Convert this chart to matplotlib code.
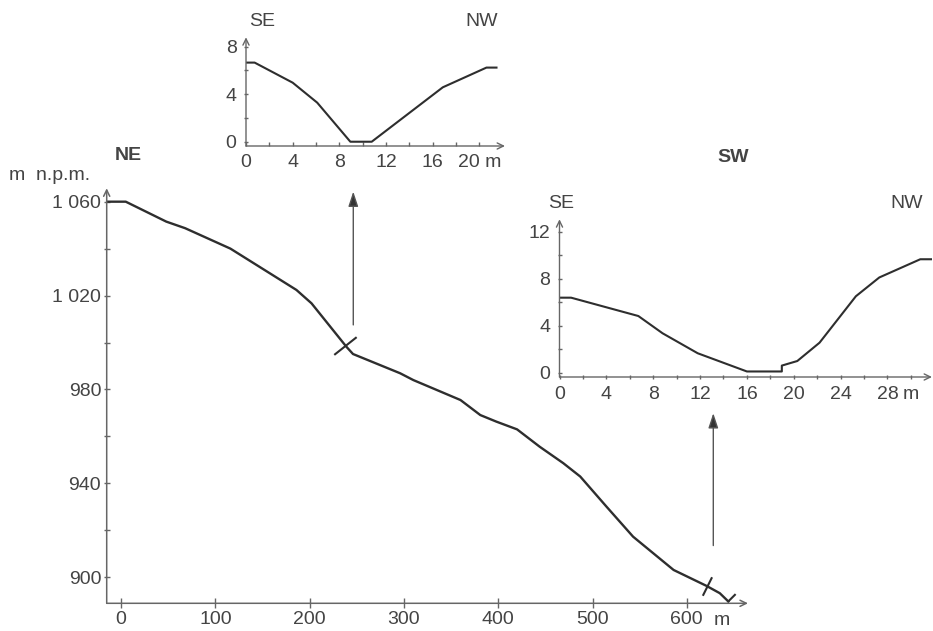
import matplotlib
matplotlib.use("Agg")
import matplotlib.pyplot as plt
import numpy as np

plt.rcParams['font.family'] = ['Liberation Sans', 'DejaVu Sans']

# ---- data ----
# main longitudinal profile (distance m, elevation m a.s.l.)
profile_x = [-15, 5, 48, 68, 116, 186, 202, 239, 246, 296, 310, 360, 381, 398,
             420, 444, 469, 487, 515, 543, 586, 621, 635, 644]
profile_y = [1060, 1060, 1051.5, 1048.7, 1040, 1022.4, 1016.7, 998.2, 995.1,
             986.9, 984, 975.5, 969.1, 966.3, 963, 955.6, 948.6, 942.9, 930,
             917.3, 903.1, 896.3, 893.2, 889.7]
main_xticks = [0, 100, 200, 300, 400, 500, 600]
main_yticks = [900, 920, 940, 960, 980, 1000, 1020, 1040, 1060]
main_ylabeled = [900, 940, 980, 1020, 1060]

# section markers on the profile (segment ends)
sec_x0 = [227, 617.5, 644]
sec_y0 = [995.0, 892.5, 889.7]
sec_x1 = [249, 626.3, 651]
sec_y1 = [1002.0, 899.6, 892.5]

# arrows pointing to cross-sections
arrow_x = [246.3, 628.1]
arrow_y0 = [1007.5, 913.5]
arrow_y1 = [1064.3, 969.9]

# cross-section 1 (upper, SE-NW)
cs1_x = [0, 0.74, 4.0, 6.1, 8.94, 10.77, 16.86, 20.6, 21.46]
cs1_y = [6.66, 6.66, 4.97, 3.29, 0, 0, 4.58, 6.24, 6.24]
cs1_xticks = [0, 2, 4, 6, 8, 10, 12, 14, 16, 18, 20]
cs1_xlabels = ['0', '', '4', '', '8', '', '12', '', '16', '', '20 m']
cs1_yticks = [0, 2, 4, 6, 8]
cs1_ylabels = ['0', '', '4', '', '8']

# cross-section 2 (right, SE-NW)
cs2_x = [0, 0.99, 6.73, 8.8, 11.8, 16.0, 18.98, 18.98, 20.3, 22.2, 25.3, 27.3, 30.8, 31.8]
cs2_y = [6.38, 6.38, 4.82, 3.35, 1.65, 0.1, 0.1, 0.6, 0.99, 2.55, 6.5, 8.1, 9.65, 9.65]
cs2_xticks = [0, 2, 4, 6, 8, 10, 12, 14, 16, 18, 20, 22, 24, 26, 28, 30]
cs2_xlabels = ['0', '', '4', '', '8', '', '12', '', '16', '', '20', '', '24', '', '28', '']
cs2_yticks = [0, 2, 4, 6, 8, 10, 12]
cs2_ylabels = ['0', '', '4', '', '8', '', '12']

# ---- style ----
LINE = '#2e2e2e'
AXC = '#666666'
TXT = '#444444'
FS = 14
W, H = 933, 631

fig = plt.figure(figsize=(W / 100, H / 100), dpi=100)


def px_axes(l, r, b, t):
    return fig.add_axes([l / W, 1 - b / H, (r - l) / W, (b - t) / H])


def axis_arrows(ax, lw=1.1):
    for xy in [(1, 0), (0, 1)]:
        ax.annotate('', xy=xy, xytext=(0, 0), xycoords='axes fraction',
                    textcoords='axes fraction',
                    arrowprops=dict(arrowstyle='->,head_length=0.45,head_width=0.22',
                                    lw=lw, color=AXC, shrinkA=0, shrinkB=0))


def strip(ax):
    for s in ax.spines.values():
        s.set_visible(False)
    ax.patch.set_alpha(0)


def fmt(v):
    return f"{v:,}".replace(',', ' ')


# ---- main profile ----
ax = px_axes(106.7, 748, 603.3, 188.3)
strip(ax)
ax.set_xlim(-15.2, 664.9)
ax.set_ylim(888.9, 1065.7)
ax.plot(profile_x, profile_y, color=LINE, lw=1.7, solid_joinstyle='round')
for i in range(len(sec_x0)):
    ax.plot([sec_x0[i], sec_x1[i]], [sec_y0[i], sec_y1[i]], color=LINE, lw=1.5)
for i in range(len(arrow_x)):
    ax.annotate('', xy=(arrow_x[i], arrow_y1[i]), xytext=(arrow_x[i], arrow_y0[i]),
                arrowprops=dict(arrowstyle='-|>,head_length=0.9,head_width=0.3',
                                lw=1.0, color='#777777', fc='#333333', ec='#555555',
                                shrinkA=0, shrinkB=0), annotation_clip=False)
ax.set_xticks(main_xticks)
ax.set_xticklabels([str(v) for v in main_xticks])
ax.set_yticks(main_yticks)
ax.set_yticklabels([fmt(v) if v in main_ylabeled else '' for v in main_yticks])
ax.tick_params(axis='x', direction='inout', length=6.5, width=1.0, color=AXC,
               labelcolor=TXT, labelsize=FS, pad=2.5)
ax.tick_params(axis='y', direction='inout', length=5, width=1.0, color=AXC,
               labelcolor=TXT, labelsize=FS, pad=1.5)
axis_arrows(ax)
ax.annotate('m', xy=(main_xticks[-1], 0), xycoords=('data', 'axes fraction'),
            xytext=(19, -6.3), textcoords='offset points', ha='left', va='top',
            fontsize=FS, color=TXT)

# ---- cross-section 1 ----
a1 = px_axes(246, 505, 146, 37.3)
strip(a1)
a1.set_xlim(0, 22.19)
a1.set_ylim(-0.36, 8.79)
a1.plot(cs1_x, cs1_y, color=LINE, lw=1.5)
a1.set_xticks(cs1_xticks)
a1.set_xticklabels(cs1_xlabels)
a1.set_yticks(cs1_yticks)
a1.set_yticklabels(cs1_ylabels)
a1.tick_params(axis='x', direction='in', length=3, width=1.0, color=AXC,
               labelcolor=TXT, labelsize=FS, pad=5.5)
a1.tick_params(axis='y', direction='inout', length=3.5, width=1.0, color=AXC,
               labelcolor=TXT, labelsize=FS, pad=5)
axis_arrows(a1, lw=1.0)

# ---- cross-section 2 ----
a2 = px_axes(559.5, 932, 377, 219.3)
strip(a2)
a2.set_xlim(0, 31.8)
a2.set_ylim(-0.37, 13.05)
a2.plot(cs2_x, cs2_y, color=LINE, lw=1.5)
a2.set_xticks(cs2_xticks)
a2.set_xticklabels(cs2_xlabels)
a2.set_yticks(cs2_yticks)
a2.set_yticklabels(cs2_ylabels)
a2.tick_params(axis='x', direction='inout', length=3.5, width=1.0, color=AXC,
               labelcolor=TXT, labelsize=FS, pad=4.5)
a2.tick_params(axis='y', direction='inout', length=3.5, width=1.0, color=AXC,
               labelcolor=TXT, labelsize=FS, pad=5)
axis_arrows(a2, lw=1.0)
a2.annotate('m', xy=(cs2_xticks[-2], 0), xycoords=('data', 'axes fraction'),
            xytext=(11, -6.8), textcoords='offset points', ha='left', va='top',
            fontsize=FS, color=TXT)

# ---- texts ----
def ftext(x, y, s, **kw):
    fig.text(x / W, 1 - y / H, s, fontsize=FS, color=TXT, **kw)

ftext(128, 155, 'NE', ha='center', va='center', fontweight='bold')
ftext(733, 158, 'SW', ha='center', va='center', fontweight='bold')
ftext(9, 175, 'm  n.p.m.', ha='left', va='center')
ftext(262, 21.7, 'SE', ha='center', va='center')
ftext(482, 21.7, 'NW', ha='center', va='center')
ftext(561, 203.3, 'SE', ha='center', va='center')
ftext(907, 203.3, 'NW', ha='center', va='center')

fig.savefig('out.png', dpi=100)
